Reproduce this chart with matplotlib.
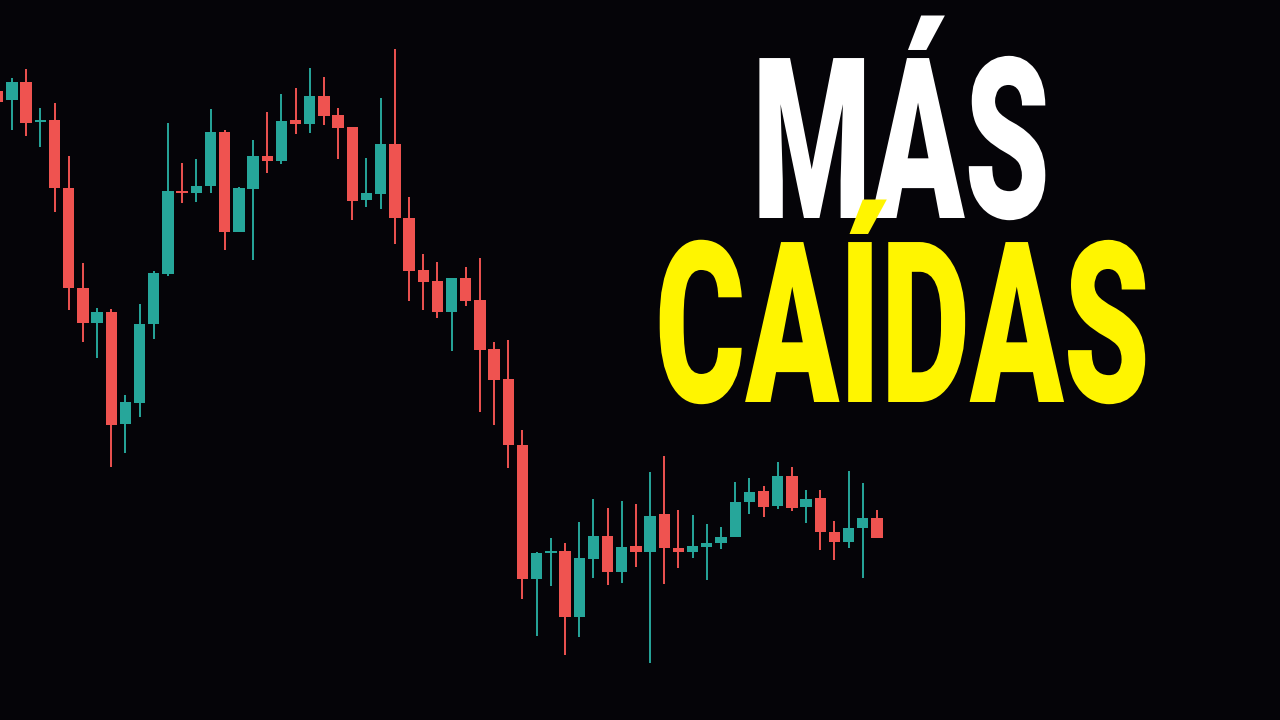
import matplotlib
matplotlib.use("Agg")
import matplotlib.pyplot as plt
from matplotlib.patheffects import AbstractPathEffect
from matplotlib.transforms import Affine2D, Bbox
from matplotlib.patches import Rectangle
from matplotlib.text import Text

# ---- data (OHLC, arbitrary price units) ----
opens  = [629, 620, 638, 598, 600, 532, 432, 397, 408, 296, 317, 396, 446, 529, 527, 534,
          588, 488, 531, 564, 559, 600, 596, 624, 605, 593, 520, 526, 576, 502, 450, 439,
          408, 442, 420, 371, 341, 275, 141, 167, 169, 103, 161, 184, 148, 174, 168, 206,
          172, 168, 173, 177, 183, 218, 229, 214, 244, 213, 222, 188, 178, 192, 202]
highs  = [632, 642, 651, 612, 617, 564, 457, 412, 411, 325, 416, 449, 597, 557, 561, 611,
          590, 533, 580, 608, 626, 632, 652, 643, 612, 593, 562, 622, 671, 523, 466, 458,
          442, 453, 462, 378, 380, 290, 168, 182, 177, 198, 221, 212, 219, 216, 248, 264,
          210, 205, 196, 193, 238, 242, 234, 258, 253, 230, 230, 199, 249, 237, 210]
lows   = [615, 590, 584, 573, 508, 410, 378, 362, 253, 267, 303, 381, 444, 517, 518, 527,
          470, 488, 460, 547, 556, 586, 587, 595, 561, 500, 513, 511, 476, 419, 410, 402,
          369, 414, 308, 295, 252, 121, 84, 134, 65, 83, 142, 135, 137, 153, 57, 136,
          152, 162, 140, 171, 183, 206, 203, 211, 209, 197, 170, 160, 172, 142, 182]
closes = [618, 638, 597, 600, 532, 432, 397, 408, 295, 318, 396, 447, 529, 527, 534, 588,
          488, 532, 564, 559, 599, 596, 624, 604, 592, 519, 527, 576, 502, 449, 438, 408,
          442, 419, 370, 340, 275, 141, 167, 169, 103, 162, 184, 148, 173, 168, 204, 172,
          168, 174, 177, 183, 218, 228, 213, 244, 212, 221, 188, 178, 192, 202, 182]

title_line1 = "MÁS"
title_line2 = "CAÍDAS"

BG = "#050408"
UP = "#26A69A"
DOWN = "#EF5350"
YELLOW = "#FFF500"

fig = plt.figure(figsize=(12.8, 7.2), dpi=100)
fig.patch.set_facecolor(BG)
ax = fig.add_axes([0, 0, 1, 1])
ax.set_facecolor(BG)
ax.set_xlim(0.155, 90.42)
ax.set_ylim(0, 720)
ax.axis("off")

body_w = 0.8
for i, (o, h, l, c) in enumerate(zip(opens, highs, lows, closes)):
    col = UP if c >= o else DOWN
    ax.plot([i, i], [l, h], color=col, lw=1.4, solid_capstyle="butt", zorder=2)
    bottom = min(o, c)
    height = max(abs(c - o), 1.5)
    ax.add_patch(Rectangle((i - body_w / 2, bottom), body_w, height,
                           facecolor=col, edgecolor="none", zorder=3))


class HSqueeze(AbstractPathEffect):
    """Compress text horizontally around x0 (display px) to mimic a condensed face."""
    def __init__(self, sx, x0):
        super().__init__()
        self.sx = sx
        self.x0 = x0

    def draw_path(self, renderer, gc, tpath, affine, rgbFace=None):
        t = affine + Affine2D().translate(-self.x0, 0).scale(self.sx, 1).translate(self.x0, 0)
        renderer.draw_path(gc, tpath, t, rgbFace)


class SqueezedText(Text):
    """Text whose reported extent matches its horizontally condensed rendering."""
    sx = 1.0

    def get_window_extent(self, renderer=None, dpi=None):
        bb = super().get_window_extent(renderer, dpi)
        return Bbox.from_extents(bb.x0, bb.y0, bb.x0 + bb.width * self.sx, bb.y1)


def big_text(s, left_px, right_px, baseline_px, color, size):
    t = SqueezedText(left_px / 1280, 1 - baseline_px / 720, s, color=color,
                     fontsize=size, fontfamily=["Roboto", "DejaVu Sans"],
                     fontweight="black", ha="left", va="baseline", zorder=5,
                     transform=fig.transFigure)
    fig.add_artist(t)
    fig.canvas.draw()
    bb = Text.get_window_extent(t, renderer=fig.canvas.get_renderer())
    sx = (right_px - left_px) / bb.width
    t.sx = sx
    t.set_path_effects([HSqueeze(sx, bb.x0)])
    return t

big_text(title_line1, 752, 1050, 218, "white", 162)
big_text(title_line2, 655, 1150, 402, YELLOW, 162)

fig.savefig("out.png", dpi=100, facecolor=BG)
